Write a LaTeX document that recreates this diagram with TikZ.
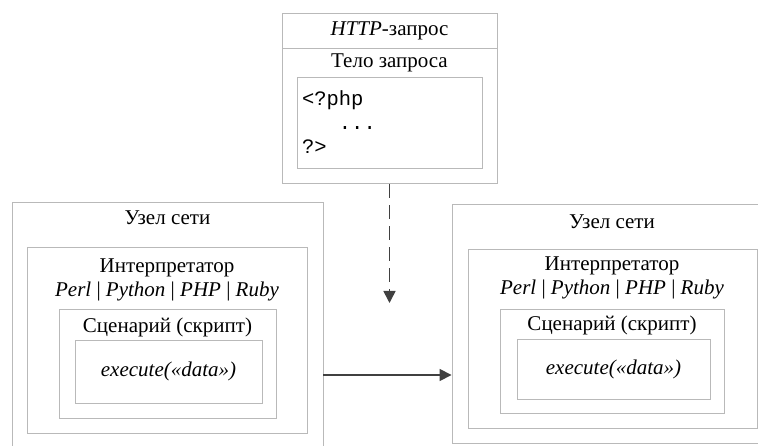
\documentclass[tikz,border=0pt]{standalone}
\usepackage{fontspec}
\setmainfont{Liberation Serif}
\setmonofont{Liberation Mono}
\usetikzlibrary{arrows.meta,positioning}

\begin{document}
\begin{tikzpicture}[x=1pt, y=1pt,
    box/.style={draw=gray!55, line width=0.9pt, inner sep=0pt},
    lbl/.style={font=\fontsize{21}{24}\selectfont, align=center, inner sep=0pt},
    hdr/.style={box, font=\fontsize{21}{24}\selectfont,
                minimum width=215pt, minimum height=35pt},
    body/.style={box, minimum width=215pt, minimum height=135pt},
    code/.style={box, font=\ttfamily\fontsize{20.5}{24}\selectfont, align=left,
                text width=175pt, inner sep=5pt, minimum height=91pt},
    exec/.style={box, font=\itshape\fontsize{21}{24}\selectfont},
    flow/.style={draw=black!75, line width=1.6pt, -{Triangle[length=12pt,width=12pt]}}
  ]
    \useasboundingbox (0,0) rectangle (758,445);

    \node[hdr]                     (reqhdr)  at (389.5,414.5) {\textit{HTTP}-запрос};
    \node[body, below=0pt of reqhdr] (reqbody)                {};
    \node[lbl]                     (reqlbl)  at (389.5,382)   {Тело запроса};
    \node[code]                    (reqcode) at (389.5,322.5) {<?php\\\hphantom{<?p}...\\?>};

    \node[box, minimum width=311pt, minimum height=255pt] (lhost)   at (167.5,115.5) {};
    \node[box, minimum width=280pt, minimum height=186pt] (linterp) at (167,105)     {};
    \node[box, minimum width=217pt, minimum height=109pt] (lscript) at (167.5,81.5)  {};
    \node[exec, minimum width=187pt, minimum height=63pt] (lexec)   at (168.5,73.5)  {execute(«data»)};
    \node[lbl] (lhostlbl)   at (167.5,227) {Узел сети};
    \node[lbl] (linterplbl) at (167,165)   {Интерпретатор\\\textit{Perl} | \textit{Python} | \textit{PHP} | \textit{Ruby}};
    \node[lbl] (lscriptlbl) at (167.5,118) {Сценарий (скрипт)};

    \node[box, minimum width=310pt, minimum height=239pt] (rhost)   at (607,121.5)   {};
    \node[box, minimum width=289pt, minimum height=179pt] (rinterp) at (612.5,106.5) {};
    \node[box, minimum width=224pt, minimum height=104pt] (rscript) at (612,84)      {};
    \node[exec, minimum width=193pt, minimum height=60pt] (rexec)   at (613.5,76)    {execute(«data»)};
    \node[lbl] (rhostlbl)   at (612,223)   {Узел сети};
    \node[lbl] (rinterplbl) at (612,167)   {Интерпретатор\\\textit{Perl} | \textit{Python} | \textit{PHP} | \textit{Ruby}};
    \node[lbl] (rscriptlbl) at (612,120)   {Сценарий (скрипт)};

    \coordinate (reqend) at (389.5,142);
    \coordinate (flowy)  at (0,70);
    \draw[flow, dash pattern=on 14pt off 7pt] (reqbody.south) -- (reqend);
    \draw[flow] (lhost.east |- flowy) -- (rhost.west |- flowy);
  \end{tikzpicture}
\end{document}
